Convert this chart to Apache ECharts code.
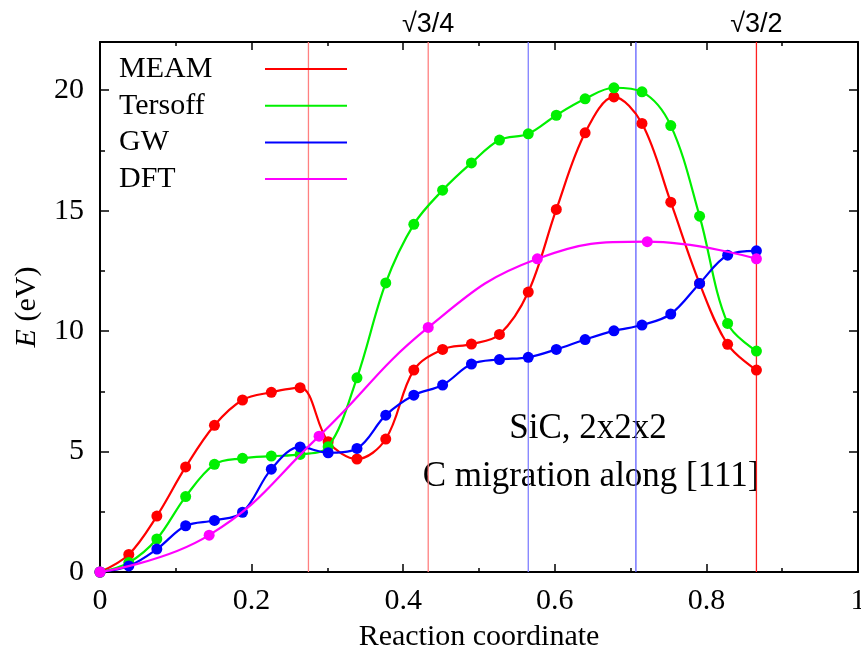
<!DOCTYPE html>
<html>
<head>
<meta charset="utf-8">
<script src="https://cdn.jsdelivr.net/npm/echarts@6/dist/echarts.min.js"></script>
<style>html,body{margin:0;padding:0;background:#fff;}#c{width:861px;height:648px;}</style>
</head>
<body>
<div id="c"></div>
<script>
// Reaction coordinate of the images (24 images between 0 and sqrt(3)/2)
var xImages = [0, 0.038, 0.075, 0.113, 0.151, 0.188, 0.226, 0.264, 0.301, 0.339, 0.377, 0.414,
               0.452, 0.490, 0.527, 0.565, 0.602, 0.640, 0.678, 0.715, 0.753, 0.791, 0.828, 0.866];
var meam    = [0, 0.73, 2.32, 4.36, 6.09, 7.14, 7.46, 7.65, 5.41, 4.69, 5.52, 8.38,
               9.24, 9.46, 9.86, 11.62, 15.05, 18.23, 19.72, 18.62, 15.35, 11.98, 9.45, 8.38];
var tersoff = [0, 0.39, 1.37, 3.13, 4.47, 4.72, 4.81, 4.88, 5.20, 8.06, 12.00, 14.43,
               15.85, 16.98, 17.93, 18.19, 18.96, 19.64, 20.10, 19.93, 18.53, 14.77, 10.32, 9.17];
var gw      = [0, 0.25, 0.95, 1.92, 2.14, 2.48, 4.27, 5.19, 4.95, 5.13, 6.51, 7.34,
               7.76, 8.63, 8.82, 8.91, 9.24, 9.65, 10.01, 10.25, 10.71, 11.98, 13.15, 13.33];
var xDft    = [0, 0.144, 0.289, 0.433, 0.577, 0.722, 0.866];
var dft     = [0, 1.53, 5.64, 10.15, 13.00, 13.71, 13.00];

var seriesNames = ['MEAM', 'Tersoff', 'GW', 'DFT'];
var seriesColors = ['#ff0000', '#00f000', '#0000ff', '#ff00ff'];

// Vertical reference lines (span the full y range)
var guideX      = [0.275, 0.433, 0.565, 0.707, 0.866];
var guideLabels = ['', '\u221A3/4', '', '', '\u221A3/2'];
var guideColors = ['#ff8080', '#ff8080', '#8080ff', '#6060ff', '#ff2020'];
var yRange = [0, 22];

var xTicks = [0, 0.2, 0.4, 0.6, 0.8, 1];
var yTickLabels = [0, 5, 10, 15, 20];

var serif = '"Liberation Serif", "Times New Roman", serif';
var sans = '"Liberation Sans", Arial, sans-serif';

function pairs(xs, ys) { return xs.map(function (x, i) { return [x, ys[i]]; }); }

var chart = echarts.init(document.getElementById('c'));

var curveData = [pairs(xImages, meam), pairs(xImages, tersoff), pairs(xImages, gw), pairs(xDft, dft)];

var series = [];
guideX.forEach(function (x, i) {
  series.push({
    name: 'guide' + i, type: 'line', xAxisIndex: 0, yAxisIndex: 0, z: 3,
    symbol: 'circle', symbolSize: 0, showSymbol: true, silent: true,
    lineStyle: { color: guideColors[i], width: 1.3 },
    itemStyle: { color: guideColors[i] },
    data: [
      { value: [x, yRange[0]], label: { show: false } },
      { value: [x, yRange[1]], label: { show: guideLabels[i] !== '', position: 'top', distance: 4,
          formatter: guideLabels[i], fontFamily: sans, fontSize: 27, color: '#000' } }
    ]
  });
});
seriesNames.forEach(function (n, i) {
  series.push({
    name: n, type: 'line', data: curveData[i], xAxisIndex: 0, yAxisIndex: 0,
    smooth: i === 3 ? 0.45 : 0.35, symbol: 'circle', symbolSize: 11, showSymbol: true,
    itemStyle: { color: seriesColors[i] },
    lineStyle: { color: seriesColors[i], width: 2.2 },
    z: 4 + i
  });
});

function yAxis(pos, interval, len, labels, line) {
  return {
    type: 'value', position: pos, min: yRange[0], max: yRange[1], interval: interval,
    axisLine: { show: line, onZero: false, lineStyle: { color: '#000', width: 2 } },
    axisTick: { show: true, inside: true, length: len, lineStyle: { color: '#000', width: 1.5 } },
    splitLine: { show: false },
    axisLabel: {
      show: labels, margin: 16, fontFamily: serif, fontSize: 30, color: '#000',
      formatter: function (v) { return yTickLabels.indexOf(v) >= 0 ? String(v) : ''; }
    },
    name: labels ? '{i|E} (eV)' : '', nameLocation: 'middle', nameGap: 58,
    nameTextStyle: { fontFamily: serif, fontSize: 30, color: '#000',
      rich: { i: { fontFamily: serif, fontSize: 30, fontStyle: 'italic', color: '#000' } } }
  };
}
function xAxis(pos, labels) {
  return {
    type: 'value', position: pos, min: 0, max: 1, interval: 0.2,
    axisLine: { show: true, onZero: false, lineStyle: { color: '#000', width: 2 } },
    axisTick: { show: true, inside: true, length: 8, lineStyle: { color: '#000', width: 1.5 } },
    minorTick: { show: true, splitNumber: 2, length: 4, lineStyle: { color: '#000', width: 1.5 } },
    splitLine: { show: false },
    axisLabel: {
      show: labels, margin: 14, fontFamily: serif, fontSize: 30, color: '#000',
      formatter: function (v) { return xTicks.indexOf(+v.toFixed(3)) >= 0 ? String(+v.toFixed(3)) : ''; }
    },
    name: labels ? 'Reaction coordinate' : '', nameLocation: 'middle', nameGap: 50,
    nameTextStyle: { fontFamily: serif, fontSize: 30, color: '#000' }
  };
}

chart.setOption({
  animation: false,
  backgroundColor: '#fff',
  grid: { left: 100, right: 3, top: 42, bottom: 76, containLabel: false, outerBoundsMode: 'none' },
  xAxis: [xAxis('bottom', true), xAxis('top', false)],
  yAxis: [yAxis('left', 5, 9, true, true), yAxis('left', 2.5, 5, false, false),
          yAxis('right', 5, 9, false, true), yAxis('right', 2.5, 5, false, false)],
  legend: {
    data: seriesNames, orient: 'vertical', left: 119, top: 54, padding: 0,
    align: 'right', icon: 'rect', itemWidth: 82, itemHeight: 2, itemGap: 6.7,
    formatter: '{a|{name}}',
    textStyle: { fontFamily: serif, fontSize: 30, lineHeight: 30, color: '#000',
      rich: { a: { width: 141, align: 'left', fontFamily: serif, fontSize: 30, lineHeight: 30, color: '#000' } } }
  },
  graphic: [
    { type: 'text', z: 1, x: 588, y: 429,
      style: { text: 'SiC, 2x2x2', fontFamily: serif, fontSize: 35, fill: '#000',
               align: 'center', verticalAlign: 'middle' } },
    { type: 'text', z: 1, x: 591, y: 477,
      style: { text: 'C migration along [111]', fontFamily: serif, fontSize: 35, fill: '#000',
               align: 'center', verticalAlign: 'middle' } }
  ],
  series: series
});
</script>
</body>
</html>
